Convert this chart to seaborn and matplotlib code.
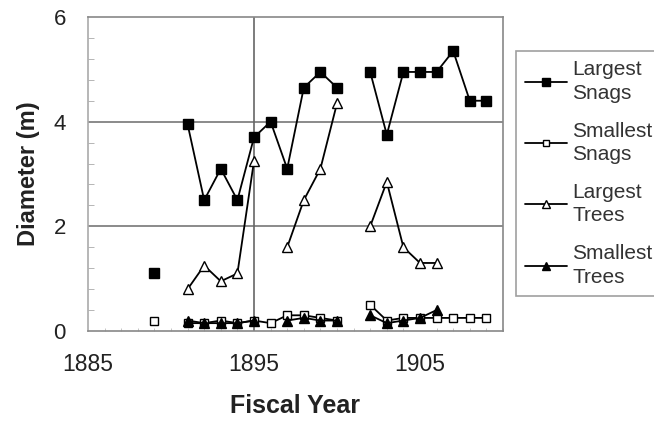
import numpy as np
import pandas as pd
import matplotlib
matplotlib.use("Agg")
import matplotlib.pyplot as plt
from matplotlib.lines import Line2D
from matplotlib.ticker import MultipleLocator
import seaborn as sns

nan = np.nan
years = list(range(1889, 1910))
largest_snags = [1.1, nan, 3.95, 2.5, 3.1, 2.5, 3.7, 4.0, 3.1, 4.65, 4.95, 4.65, nan,
                 4.95, 3.75, 4.95, 4.95, 4.95, 5.35, 4.4, 4.4]
smallest_snags = [0.2, nan, 0.15, 0.15, 0.2, 0.15, 0.2, 0.15, 0.3, 0.3, 0.25, 0.2, nan,
                  0.5, 0.2, 0.25, 0.25, 0.25, 0.25, 0.25, 0.25]
largest_trees = [nan, nan, 0.8, 1.25, 0.95, 1.1, 3.25, nan, 1.6, 2.5, 3.1, 4.35, nan,
                 2.0, 2.85, 1.6, 1.3, 1.3, nan, nan, nan]
smallest_trees = [nan, nan, 0.2, 0.15, 0.15, 0.15, 0.2, nan, 0.2, 0.25, 0.2, 0.2, nan,
                  0.3, 0.15, 0.2, 0.25, 0.4, nan, nan, nan]

series_labels = ["Largest\nSnags", "Smallest\nSnags", "Largest\nTrees", "Smallest\nTrees"]
x_ticks = [1885, 1895, 1905]
y_ticks = [0, 2, 4, 6]

sns.set_style("white")
plt.rcParams["font.family"] = ["Liberation Sans", "DejaVu Sans"]

fig = plt.figure(figsize=(6.54, 4.22), dpi=100)
ax = fig.add_axes([88 / 654, 1 - 331 / 422, (503 - 88) / 654, (331 - 17) / 422])

styles = [
    dict(marker="s", markerfacecolor="black", markersize=6.5),
    dict(marker="s", markerfacecolor="white", markersize=6),
    dict(marker="^", markerfacecolor="white", markersize=7),
    dict(marker="^", markerfacecolor="black", markersize=6.5),
]
all_values = [largest_snags, smallest_snags, largest_trees, smallest_trees]

for vals, st in zip(all_values, styles):
    df = pd.DataFrame({"year": years, "value": vals}).dropna()
    df["seg"] = (df["year"].diff() > 1).cumsum()
    sns.lineplot(data=df, x="year", y="value", units="seg", estimator=None,
                 color="black", lw=1.3, markeredgecolor="black",
                 markeredgewidth=1.0, legend=False, ax=ax, **st)

ax.set_xlim(1885, 1910)
ax.set_ylim(0, 6)
ax.set_xticks(x_ticks)
ax.set_yticks(y_ticks)
ax.yaxis.set_minor_locator(MultipleLocator(0.4))
ax.xaxis.set_minor_locator(MultipleLocator(1))
ax.tick_params(axis="y", which="major", direction="in", length=5, color="#888",
               labelsize=16, pad=16, labelcolor="#222")
ax.tick_params(axis="y", which="minor", direction="in", length=4, color="#aaa", left=True)
ax.tick_params(axis="x", which="major", direction="in", length=0, labelsize=16.5,
               pad=16, labelcolor="#222")
ax.tick_params(axis="x", which="minor", direction="in", length=2, color="#bbb", bottom=True)

# gridlines: horizontal at 2,4 and vertical at 1895
for yv in [2, 4]:
    ax.axhline(yv, color="#777", lw=1.2, zorder=0)
ax.axvline(1895, color="#666", lw=1.2, zorder=0)

for s in ax.spines.values():
    s.set_color("#888")
    s.set_linewidth(1.2)
ax.spines["left"].set_color("#aaa")

ax.set_xlabel("Fiscal Year", fontsize=18, fontweight="bold", color="#222", labelpad=13)
ax.set_ylabel("Diameter (m)", fontsize=17, fontweight="bold", color="#222", labelpad=10)

handles = []
for st in styles:
    handles.append(Line2D([], [], color="black", lw=1.3, markeredgecolor="black",
                          markeredgewidth=1.0, **{**st, "markersize": st["markersize"] - 1}))
leg = fig.legend(handles, series_labels, loc="upper left",
                 bbox_to_anchor=(516 / 654, 1 - 51 / 422), bbox_transform=fig.transFigure,
                 fontsize=15, frameon=True, fancybox=False, edgecolor="#888",
                 handlelength=2.0, handletextpad=0.25, labelspacing=0.9,
                 borderpad=0.45, borderaxespad=0)
leg.get_frame().set_linewidth(1.2)
for t in leg.get_texts():
    t.set_color("#333")
    t.set_linespacing(1.3)

fig.savefig("out.png", dpi=100)
